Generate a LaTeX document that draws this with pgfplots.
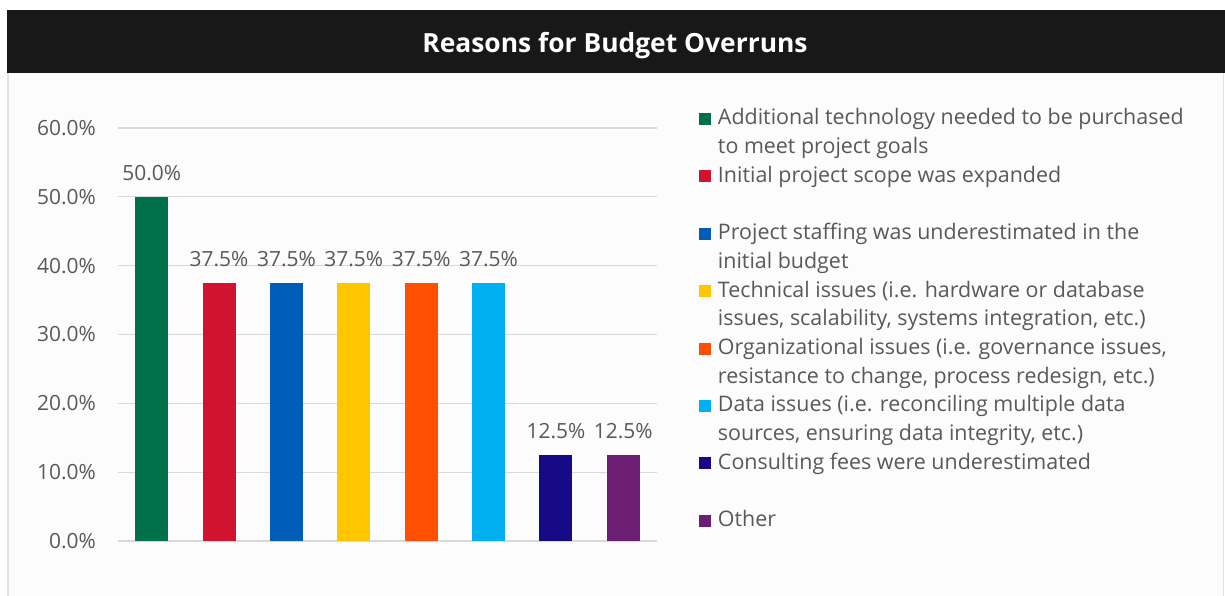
\documentclass[border=0pt]{standalone}
\usepackage{fontspec}
\setmainfont{Open Sans}
\usepackage{pgfplots}
\pgfplotsset{compat=1.18}
\definecolor{titlebg}{HTML}{181818}
\definecolor{panelbg}{HTML}{FCFCFC}
\definecolor{bordergray}{HTML}{E2E2E2}
\definecolor{gridgray}{HTML}{D9D9D9}
\definecolor{textgray}{HTML}{595959}
\definecolor{c1}{HTML}{00704A}
\definecolor{c2}{HTML}{D0142F}
\definecolor{c3}{HTML}{005EB8}
\definecolor{c4}{HTML}{FFC600}
\definecolor{c5}{HTML}{FE5000}
\definecolor{c6}{HTML}{00B0F0}
\definecolor{c7}{HTML}{160A87}
\definecolor{c8}{HTML}{6B1E74}
\begin{document}
\begin{tikzpicture}
\useasboundingbox (0bp,0bp) rectangle (1225bp,596bp);
\fill[white] (0bp,0bp) rectangle (1225bp,596bp);
\fill[panelbg] (7bp,0bp) rectangle (1224bp,523bp);
\draw[bordergray, line width=1.5bp] (7.75bp,0bp) -- (7.75bp,523bp);
\draw[bordergray, line width=1.5bp] (1223.25bp,0bp) -- (1223.25bp,523bp);
\fill[titlebg] (7bp,523bp) rectangle (1225bp,586bp);
\node[anchor=base, text=white, inner sep=0pt, font=\fontsize{26.5}{30}\selectfont\bfseries] at (615bp,543bp) {Reasons for Budget Overruns};
\begin{axis}[
  at={(118bp,55bp)}, anchor=south west,
  scale only axis, width=539bp, height=413bp,
  xmin=-0.5, xmax=7.5, ymin=0, ymax=60,
  ytick={0,10,...,60}, xtick=\empty,
  axis line style={draw=none},
  ymajorgrids, major grid style={draw=gridgray, line width=1.3bp},
  major tick length=0pt,
  /pgf/number format/assume math mode=true,
  yticklabel={\pgfmathprintnumber[fixed,fixed zerofill,precision=1]{\tick}\%},
  yticklabel style={anchor=east, inner sep=0pt, xshift=-22bp, text=textgray, font=\fontsize{21}{25}\selectfont},
  ybar, bar width=33bp, bar shift=0pt,
  nodes near coords={\pgfmathprintnumber[fixed,fixed zerofill,precision=1]{\pgfplotspointmeta}\%},
  every node near coord/.append style={anchor=base, inner sep=0pt, yshift=16bp, text=textgray, font=\fontsize{21}{25}\selectfont},
  legend style={at={(1.0779,1.056)}, anchor=north west, draw=none, fill=none,
    inner sep=0pt, outer sep=0pt, row sep=0pt,
    cells={anchor=base west},
    nodes={inner sep=0pt, text depth=, text=textgray, font=\fontsize{21.5}{28.8}\selectfont}},
  legend image code/.code={\fill[#1] (0bp,0bp) rectangle (12bp,12bp); \path (19bp,0bp);},
]
\addplot[fill=c1, draw=none] coordinates {(0,50)};
\addlegendentry{\begin{tabular}[t]{@{}l@{}}Additional technology needed to be purchased\\to meet project goals\end{tabular}}
\addplot[fill=c2, draw=none] coordinates {(1,37.5)};
\addlegendentry{\begin{tabular}[t]{@{}l@{}}Initial project scope was expanded\\ \mbox{}\end{tabular}}
\addplot[fill=c3, draw=none] coordinates {(2,37.5)};
\addlegendentry{\begin{tabular}[t]{@{}l@{}}Project staffing was underestimated in the\\initial budget\end{tabular}}
\addplot[fill=c4, draw=none] coordinates {(3,37.5)};
\addlegendentry{\begin{tabular}[t]{@{}l@{}}Technical issues (i.e. hardware or database\\issues, scalability, systems integration, etc.)\end{tabular}}
\addplot[fill=c5, draw=none] coordinates {(4,37.5)};
\addlegendentry{\begin{tabular}[t]{@{}l@{}}Organizational issues (i.e. governance issues,\\resistance to change, process redesign, etc.)\end{tabular}}
\addplot[fill=c6, draw=none] coordinates {(5,37.5)};
\addlegendentry{\begin{tabular}[t]{@{}l@{}}Data issues (i.e. reconciling multiple data\\sources, ensuring data integrity, etc.)\end{tabular}}
\addplot[fill=c7, draw=none] coordinates {(6,12.5)};
\addlegendentry{\begin{tabular}[t]{@{}l@{}}Consulting fees were underestimated\\ \mbox{}\end{tabular}}
\addplot[fill=c8, draw=none] coordinates {(7,12.5)};
\addlegendentry{\begin{tabular}[t]{@{}l@{}}Other\\ \mbox{}\end{tabular}}
\end{axis}
\end{tikzpicture}
\end{document}
